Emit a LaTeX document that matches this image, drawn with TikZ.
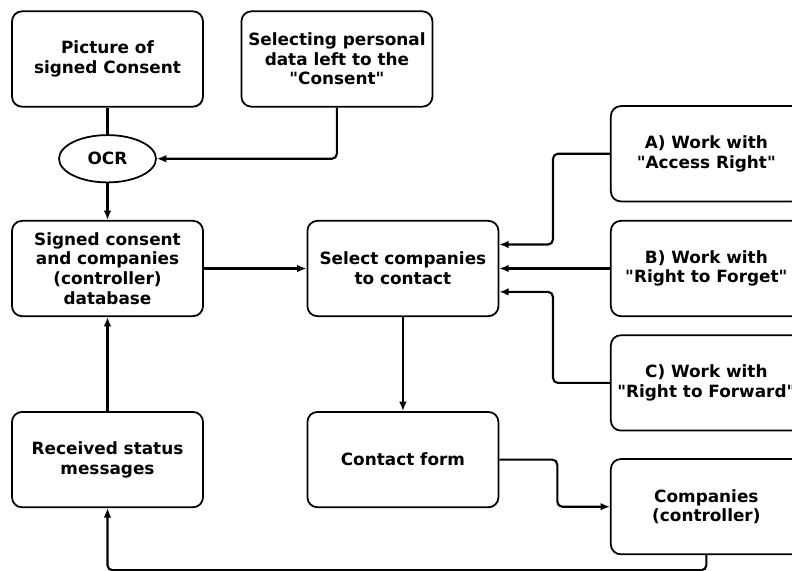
\documentclass[tikz,border=0pt]{standalone}
\usepackage{fontspec}
\setmainfont{DejaVu Sans}
\usepackage{tikz}
\usetikzlibrary{shapes,arrows.meta}
\usetikzlibrary{positioning}
\tikzset{auto,>={Latex[length=8pt,width=6.5pt]}, minimum size=0pt, node distance=1cm, font=\fontsize{14.4}{16.8}\selectfont\bfseries}
\tikzstyle{block} = [draw, fill=white, rectangle, rounded corners=0.3cm, line width=1.5pt, minimum height=2.86cm, minimum width=5.73cm, text centered, align=center]
\tikzstyle{scan} = [draw, fill=white, ellipse, line width=1.5pt, minimum height=1.42cm, minimum width=2.91cm, inner sep=0pt]
\tikzstyle{wire} = [draw, line width=1.8pt, rounded corners=0.15cm]

\begin{document}
\begin{tikzpicture}
    \useasboundingbox (0,0) rectangle (23.76,-17.13);
    \node [block] (picture) at (3.225,-1.77) {Picture of\\signed Consent};
    \node [block, right=1.1cm of picture] (selecting) {Selecting personal\\data left to the\\\textquotedbl Consent\textquotedbl};
    \node [scan, below=0.8cm of picture] (ocr) {OCR};
    \node [block, below=1.1cm of ocr] (database) {Signed consent\\and companies\\(controller)\\database};
    \node [block, right=3.08cm of database] (choose) {Select companies\\to contact};
    \node [block, below=2.82cm of database] (status) {Received status\\messages};
    \node [block, below=2.82cm of choose] (contact) {Contact form};
    \node [block, right=3.32cm of choose] (forget) {B) Work with\\\textquotedbl Right to Forget\textquotedbl};
    \node [block, above=0.53cm of forget] (access) {A) Work with\\\textquotedbl Access Right\textquotedbl};
    \node [block, below=0.52cm of forget] (forward) {C) Work with\\\textquotedbl Right to Forward\textquotedbl};
    \node [block, below=0.8cm of forward] (companies) {Companies\\(controller)};
    \coordinate [below=0.45cm of companies.south] (loop);

    \draw [wire] (picture) -- (ocr);
    \draw [wire,->] (selecting.south) |- (ocr.east);
    \draw [wire,->] (ocr) -- (database);
    \draw [wire,->] (database) -- (choose);
    \draw [wire,->] (access.west) -- ++(-1.71,0) |- ([yshift=0.72cm]choose.east);
    \draw [wire,->] (forget) -- (choose);
    \draw [wire,->] (forward.west) -- ++(-1.71,0) |- ([yshift=-0.7cm]choose.east);
    \draw [wire,->] (choose) -- (contact);
    \draw [wire,->] (contact.east) -- ++(1.74,0) |- (companies.west);
    \draw [wire,->] (status) -- (database);
    \draw [wire,->] (companies.south) -- (loop) -| (status.south);
\end{tikzpicture}
\end{document}
